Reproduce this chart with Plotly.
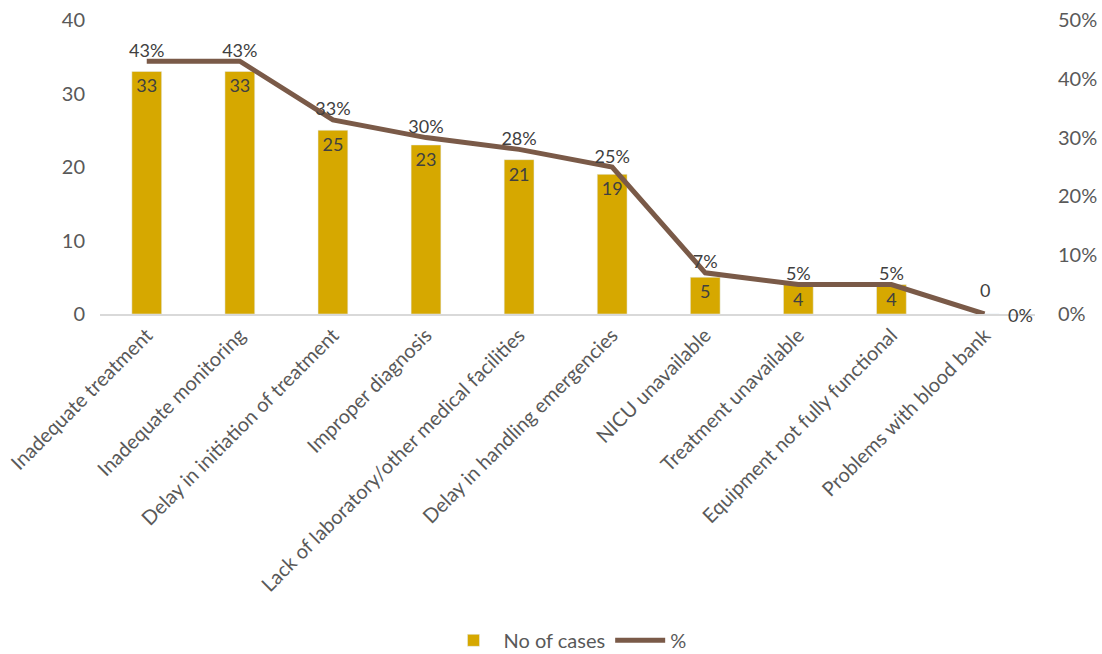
import plotly.graph_objects as go

categories = ["Inadequate treatment", "Inadequate monitoring", "Delay in initiation of treatment",
              "Improper diagnosis", "Lack of laboratory/other medical facilities",
              "Delay in handling emergencies", "NICU unavailable", "Treatment unavailable",
              "Equipment not fully functional", "Problems with blood bank"]
cases = [33, 33, 25, 23, 21, 19, 5, 4, 4, 0]
pct = [0.43, 0.43, 0.33, 0.30, 0.28, 0.25, 0.07, 0.05, 0.05, 0.0]

FONT = "Lato"
LBL = 18
bar_text = [str(v) if v > 0 else "" for v in cases]
line_text = [f"{round(p*100)}%" for p in pct[:-1]] + [""]

fig = go.Figure()
fig.add_trace(go.Bar(
    x=categories, y=cases, name="No of cases",
    marker=dict(color="#D6A800"), width=0.32,
    text=bar_text, textposition="inside", insidetextanchor="end",
    textfont=dict(family=FONT, size=LBL, color="#404040"),
    constraintext="none", cliponaxis=False,
))
fig.add_trace(go.Scatter(
    x=categories, y=pct, name="%", yaxis="y2", mode="lines+text",
    line=dict(color="#7A5A48", width=5),
    text=line_text, textposition="top center",
    textfont=dict(family=FONT, size=LBL, color="#404040"),
    cliponaxis=False,
))
fig.add_annotation(x=categories[-1], y=cases[-1], text=str(cases[-1]), showarrow=False,
                   yshift=24, font=dict(family=FONT, size=LBL, color="#404040"))
fig.add_annotation(x=categories[-1], y=pct[-1], yref="y2", text=f"{round(pct[-1]*100)}%",
                   showarrow=False, xshift=36, yshift=-1,
                   font=dict(family=FONT, size=LBL, color="#404040"))

fig.update_layout(
    width=1102, height=654,
    margin=dict(l=100, r=67, t=20, b=340, autoexpand=False),
    plot_bgcolor="white", paper_bgcolor="white",
    font=dict(family=FONT, size=20, color="#595959"),
    showlegend=True,
    legend=dict(orientation="h", x=0.5, xanchor="center", y=-1.11, yanchor="middle",
                font=dict(family=FONT, size=20, color="#595959"), itemwidth=50),
    xaxis=dict(showline=True, linecolor="#D9D9D9", linewidth=1.5, tickangle=-45,
               ticks="", showgrid=False, automargin=False,
               tickfont=dict(family=FONT, size=20, color="#595959")),
    yaxis=dict(range=[0, 40], dtick=10, showgrid=False, zeroline=False, ticks="",
               tickfont=dict(family=FONT, size=20, color="#595959"), ticklabelstandoff=14,
               automargin=False),
    yaxis2=dict(range=[0, 0.5], dtick=0.1, tickformat=".0%", overlaying="y", side="right",
                showgrid=False, zeroline=False, ticks="", automargin=False,
                tickfont=dict(family=FONT, size=20, color="#595959"), ticklabelstandoff=22),
    bargap=0.68,
)
fig.write_html("out.html")
